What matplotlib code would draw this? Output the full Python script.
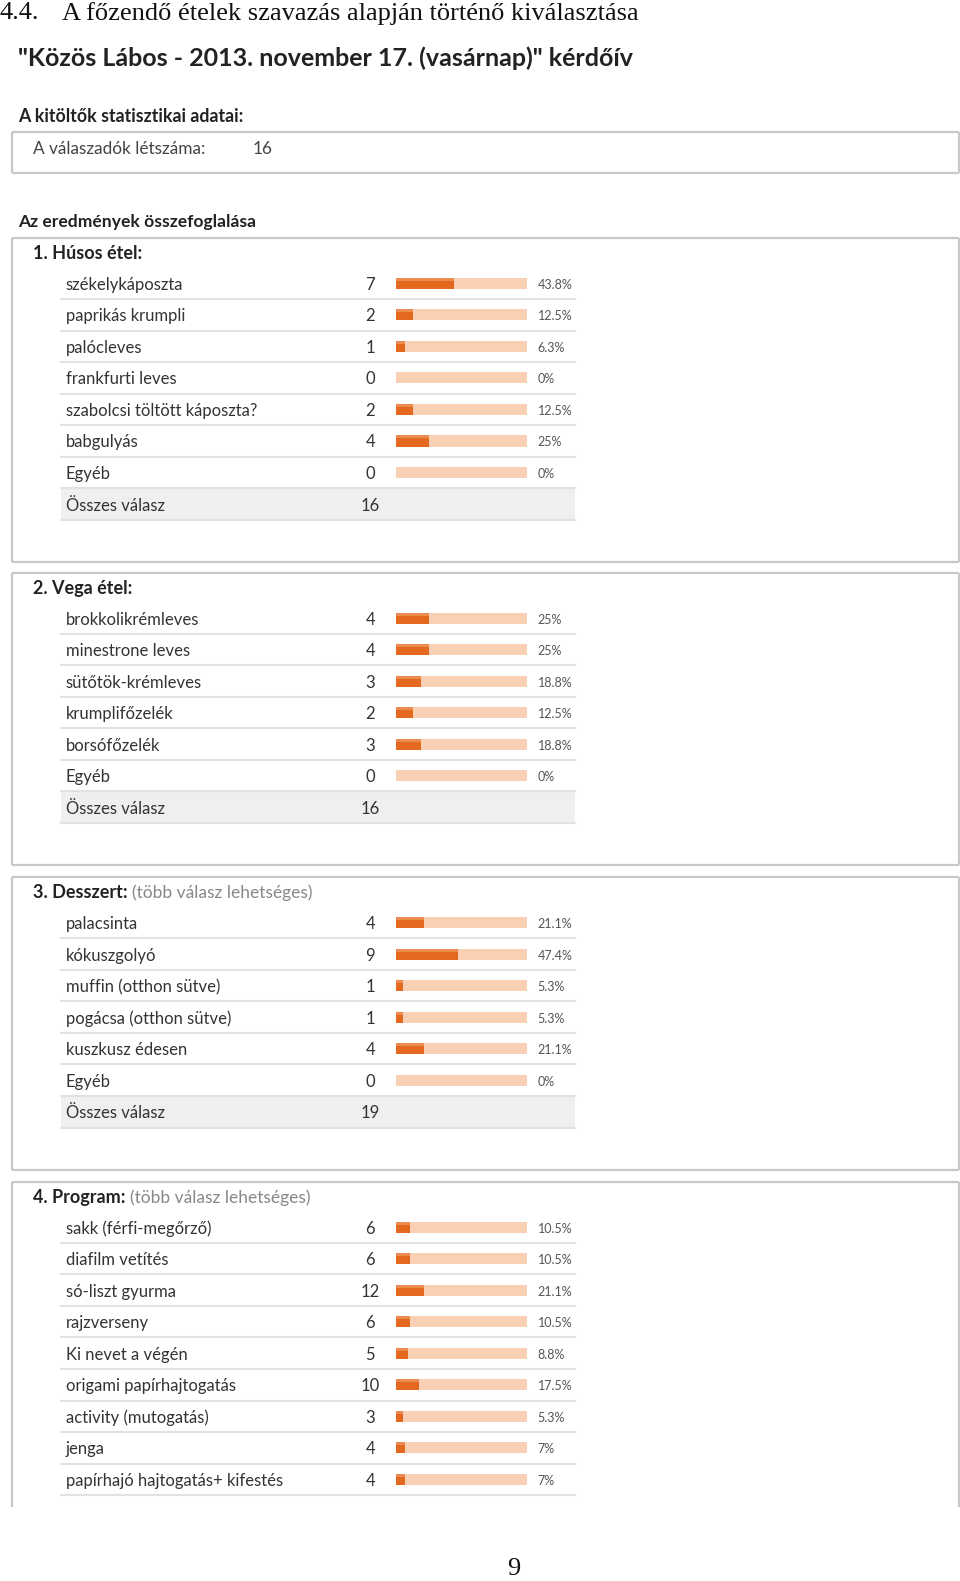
import matplotlib.pyplot as plt
from matplotlib.patches import Rectangle

# survey data
q1_labels = ["székelykáposzta", "paprikás krumpli", "palócleves", "frankfurti leves",
             "szabolcsi töltött káposzta?", "babgulyás", "Egyéb"]
q1_counts = [7, 2, 1, 0, 2, 4, 0]
q1_pct = [43.8, 12.5, 6.3, 0, 12.5, 25, 0]
q1_total = 16

q2_labels = ["brokkolikrémleves", "minestrone leves", "sütőtök-krémleves",
             "krumplifőzelék", "borsófőzelék", "Egyéb"]
q2_counts = [4, 4, 3, 2, 3, 0]
q2_pct = [25, 25, 18.8, 12.5, 18.8, 0]
q2_total = 16

q3_labels = ["palacsinta", "kókuszgolyó", "muffin (otthon sütve)",
             "pogácsa (otthon sütve)", "kuszkusz édesen", "Egyéb"]
q3_counts = [4, 9, 1, 1, 4, 0]
q3_pct = [21.1, 47.4, 5.3, 5.3, 21.1, 0]
q3_total = 19

q4_labels = ["sakk (férfi-megőrző)", "diafilm vetítés", "só-liszt gyurma", "rajzverseny",
             "Ki nevet a végén", "origami papírhajtogatás", "activity (mutogatás)", "jenga",
             "papírhajó hajtogatás+ kifestés"]
q4_counts = [6, 6, 12, 6, 5, 10, 3, 4, 4]
q4_pct = [10.5, 10.5, 21.1, 10.5, 8.8, 17.5, 5.3, 7, 7]

respondents = 16

UI = ["Lato", "DejaVu Sans"]
SERIF = ["Liberation Serif", "DejaVu Serif"]
TXT = "#333333"
TRACK = "#f9d0b4"
BAR = "#e2691d"
BAR_HI = "#eb8b50"
SEP = "#e2e2e2"
BORDER = "#c8c8c8"

W, H = 952, 1568  # work in the reference pixel grid
fig = plt.figure(figsize=(9.6, 15.81), dpi=100)
ax = fig.add_axes([0, 0, 1, 1])
ax.set_xlim(0, W)
ax.set_ylim(H, 0)
ax.axis("off")
renderer = fig.canvas.get_renderer()

ROW = 31.27
TRACK_X, TRACK_W = 393, 130
DY = 1.5  # text sits a bit lower than the bar centre


def box(top, bottom, open_bottom=False):
    kw = dict(color=BORDER, lw=1.6, solid_capstyle="butt")
    ax.plot([12, 12], [top, bottom], **kw)
    ax.plot([951, 951], [top, bottom], **kw)
    ax.plot([12, 951], [top, top], **kw)
    if not open_bottom:
        ax.plot([12, 951], [bottom, bottom], **kw)


def header(y, bold, extra=None):
    t = ax.text(33, y, bold, family=UI, fontsize=13, fontweight="bold",
                color="#222222", va="center")
    if extra:
        bb = t.get_window_extent(renderer)
        x_end = ax.transData.inverted().transform((bb.x1, bb.y0))[0]
        ax.text(x_end + 4, y, extra, family=UI, fontsize=12.5, color="#888888", va="center")


def section(top, bottom, title, labels, counts, pct, total=None, extra=None, open_bottom=False):
    box(top, bottom, open_bottom)
    header(top + 15.5, title, extra)
    y0 = top + 45
    ys = [y0 + i * ROW for i in range(len(labels))]
    widths = [p / 100 * TRACK_W for p in pct]
    ax.barh(ys, [TRACK_W] * len(ys), height=11, left=TRACK_X, color=TRACK)
    ax.barh(ys, widths, height=11, left=TRACK_X, color=BAR)
    ax.barh([y - 4 for y in ys], widths, height=3, left=TRACK_X, color=BAR_HI)
    for y, lab, c, p in zip(ys, labels, counts, pct):
        ax.text(65, y + DY, lab, family=UI, fontsize=12, color=TXT, va="center")
        ax.text(367, y + DY, str(c), family=UI, fontsize=12, color=TXT, va="center", ha="center")
        ax.text(533, y + DY, f"{p:g}%", family=UI, fontsize=9, color="#555555", va="center")
        ax.plot([60, 570], [y + ROW / 2, y + ROW / 2], color=SEP, lw=1.5)
    if total is not None:
        yt = y0 + len(labels) * ROW
        ax.add_patch(Rectangle((60, yt - ROW / 2), 510, ROW, color="#efefef", lw=0))
        ax.plot([60, 570], [yt + ROW / 2, yt + ROW / 2], color=SEP, lw=1.5)
        ax.text(65, yt + DY, "Összes válasz", family=UI, fontsize=12, color=TXT, va="center")
        ax.text(367, yt + DY, str(total), family=UI, fontsize=12, color=TXT, va="center", ha="center")


# page title
ax.text(0, 13, "4.4.", family=SERIF, fontsize=19, color="#111111", va="center")
ax.text(61, 13, "A főzendő ételek szavazás alapján történő kiválasztása",
        family=SERIF, fontsize=19, color="#111111", va="center")
ax.text(18, 58, "\"Közös Lábos - 2013. november 17. (vasárnap)\" kérdőív",
        family=UI, fontsize=18, fontweight="bold", color="#222222", va="center")

ax.text(18, 116, "A kitöltők statisztikai adatai:", family=UI, fontsize=12.8,
        fontweight="bold", color="#222222", va="center")
box(131, 172)
ax.text(33, 148, "A válaszadók létszáma:", family=UI, fontsize=12.4, color="#444444", va="center")
ax.text(251, 148, str(respondents), family=UI, fontsize=12.4, color="#444444", va="center")

ax.text(18, 220, "Az eredmények összefoglalása", family=UI, fontsize=12.6,
        fontweight="bold", color="#222222", va="center")

section(236, 557, "1. Húsos étel:", q1_labels, q1_counts, q1_pct, q1_total)
section(568, 858, "2. Vega étel:", q2_labels, q2_counts, q2_pct, q2_total)
section(870, 1160, "3. Desszert:", q3_labels, q3_counts, q3_pct, q3_total,
        extra="(több válasz lehetséges)")
section(1172, 1495, "4. Program:", q4_labels, q4_counts, q4_pct,
        extra="(több válasz lehetséges)", open_bottom=True)

ax.text(509, 1556, "9", family=SERIF, fontsize=19, color="#111111", va="center", ha="center")

fig.savefig("out.png", dpi=100)
